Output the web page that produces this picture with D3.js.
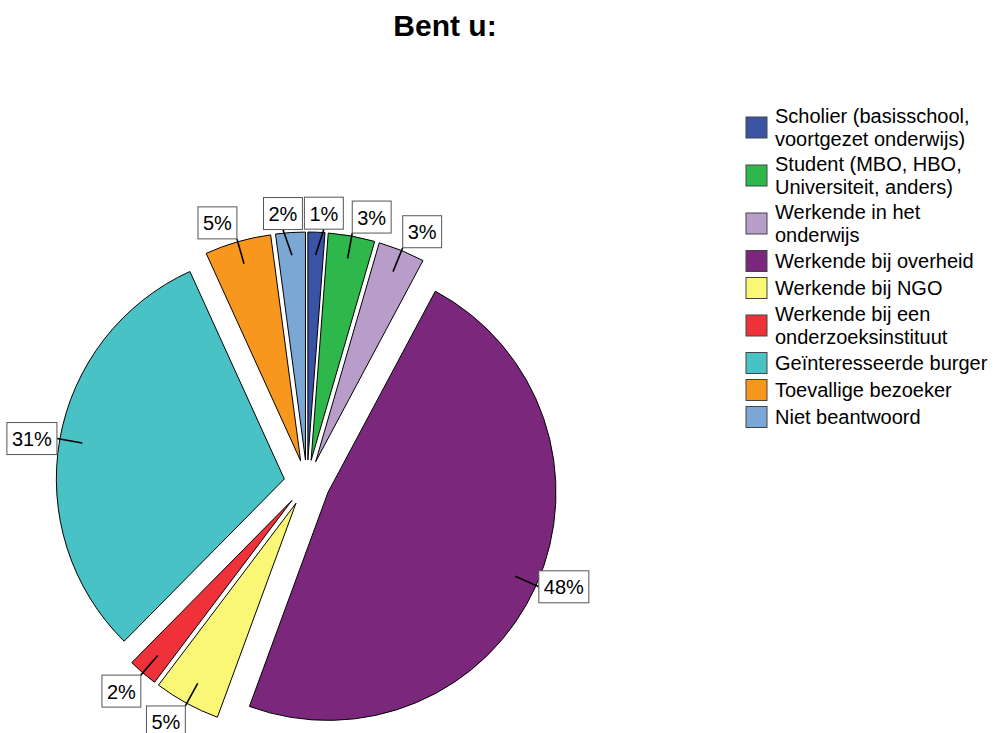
<!DOCTYPE html>
<html><head><meta charset="utf-8">
<script src="https://cdn.jsdelivr.net/npm/d3@7"></script>
<style>
body{margin:0;background:#fff;}
text{font-family:"Liberation Sans",Arial,Helvetica,sans-serif;}
</style>
</head><body>
<svg id="chart" width="996" height="733"></svg>
<script>
// ---- data ----
const title = "Bent u:";
const categories = [
  "Scholier (basisschool, voortgezet onderwijs)",
  "Student (MBO, HBO, Universiteit, anders)",
  "Werkende in het onderwijs",
  "Werkende bij overheid",
  "Werkende bij NGO",
  "Werkende bij een onderzoeksinstituut",
  "Geïnteresseerde burger",
  "Toevallige bezoeker",
  "Niet beantwoord"
];
const legendLines = [
  ["Scholier (basisschool,", "voortgezet onderwijs)"],
  ["Student (MBO, HBO,", "Universiteit, anders)"],
  ["Werkende in het", "onderwijs"],
  ["Werkende bij overheid"],
  ["Werkende bij NGO"],
  ["Werkende bij een", "onderzoeksinstituut"],
  ["Geïnteresseerde burger"],
  ["Toevallige bezoeker"],
  ["Niet beantwoord"]
];
const shares = [1.2, 3.3, 3.3, 47.8, 4.7, 2.1, 30.8, 4.7, 2.1];
const palette = ["#3a53a4", "#2eb84b", "#b89dca", "#7b287c", "#fbf776", "#ef313a", "#48c2c5", "#f7971e", "#7aa7d4"];

// ---- layout ----
const svg = d3.select("#chart");
const cx = 307, cy = 483, R = 228, explode = 23;

svg.append("text").attr("x", 445).attr("y", 36).attr("text-anchor", "middle")
  .attr("font-size", 30).attr("font-weight", "bold").text(title);

const pie = d3.pie().sort(null).value(d => d);
const arcs = pie(shares);
const arc = d3.arc().innerRadius(0).outerRadius(R);

const slices = svg.append("g");
arcs.forEach((a, i) => {
  const mid = (a.startAngle + a.endAngle) / 2;
  a.mid = mid;
  a.ox = cx + Math.sin(mid) * explode;
  a.oy = cy - Math.cos(mid) * explode;
  slices.append("path")
    .attr("transform", `translate(${a.ox},${a.oy})`)
    .attr("d", arc(a))
    .attr("fill", palette[i])
    .attr("stroke", "#000")
    .attr("stroke-width", 1)
    .attr("stroke-linejoin", "miter");
});

const fmt = d3.format(".0f");
const lineG = svg.append("g");
const boxG = svg.append("g");
const boxH = 32, padX = 5;
const labels = arcs.map((a, i) => {
  const s = Math.sin(a.mid), c = Math.cos(a.mid);
  const L = {
    x1: a.ox + s * R * 0.9, y1: a.oy - c * R * 0.9,
    x2: a.ox + s * (R + 3), y2: a.oy - c * (R + 3),
    s, c
  };
  L.g = boxG.append("g");
  L.rect = L.g.append("rect").attr("fill", "#fff").attr("stroke", "#555").attr("stroke-width", 1);
  L.t = L.g.append("text").attr("font-size", 20).attr("text-anchor", "middle")
    .attr("dominant-baseline", "central").text(fmt(a.data) + "%");
  L.w = L.t.node().getComputedTextLength() + 2 * padX;
  L.fx = Math.abs(s) < 0.1 ? 0.5 : (s > 0 ? 0 : 1);
  L.fy = c > 0.5 ? 1 : (c < -0.5 ? 0 : 0.5);
  L.bx = L.x2 - L.fx * L.w;
  L.by = L.y2 - L.fy * boxH;
  return L;
});

// simple collision resolution: push overlapping boxes apart horizontally
for (let iter = 0; iter < 20; iter++) {
  let moved = false;
  for (let i = 0; i < labels.length; i++) {
    for (let j = i + 1; j < labels.length; j++) {
      const A = labels[i], B = labels[j];
      const ox = Math.min(A.bx + A.w, B.bx + B.w) - Math.max(A.bx, B.bx);
      const oy = Math.min(A.by + boxH, B.by + boxH) - Math.max(A.by, B.by);
      if (ox > -2 && oy > 0) {
        const push = (ox + 2) / 2;
        const [left, right] = (A.bx + A.w / 2) <= (B.bx + B.w / 2) ? [A, B] : [B, A];
        left.bx -= push; right.bx += push;
        moved = true;
      }
    }
  }
  if (!moved) break;
}

labels.forEach(L => {
  const ex = L.bx + L.fx * L.w, ey = L.by + L.fy * boxH;
  lineG.append("line").attr("x1", L.x1).attr("y1", L.y1).attr("x2", ex).attr("y2", ey)
    .attr("stroke", "#000").attr("stroke-width", 1.6);
  L.rect.attr("x", L.bx).attr("y", L.by).attr("width", L.w).attr("height", boxH);
  L.t.attr("x", L.bx + L.w / 2).attr("y", L.by + boxH / 2 + 0.5);
});

// ---- legend ----
const leg = svg.append("g");
const sw = 21, lx = 746, tx = 775, lineH = 22.5;
const itemH = n => n === 1 ? 27 : 48;
let yc = 127.5;
legendLines.forEach((lines, i) => {
  if (i > 0) yc += (itemH(legendLines[i - 1].length) + itemH(lines.length)) / 2;
  leg.append("rect").attr("x", lx).attr("y", yc - sw / 2).attr("width", sw).attr("height", sw)
    .attr("fill", palette[i]).attr("stroke", "#444").attr("stroke-width", 1);
  const first = yc - (lines.length - 1) * lineH / 2 + 7;
  lines.forEach((ln, k) => {
    leg.append("text").attr("font-size", 20).attr("x", tx).attr("y", first + k * lineH).text(ln);
  });
});
</script>
</body></html>
